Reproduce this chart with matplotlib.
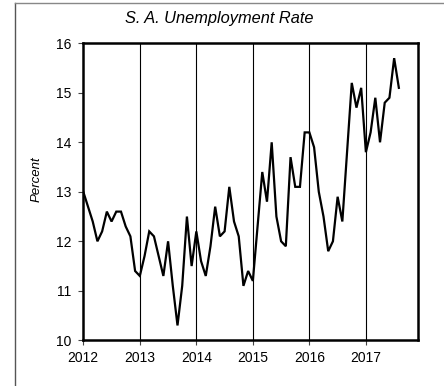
import numpy as np
import matplotlib
matplotlib.use("Agg")
import matplotlib.pyplot as plt
from matplotlib.lines import Line2D

plt.rcParams['font.family'] = ['Liberation Sans', 'DejaVu Sans']

# Seasonally adjusted unemployment rate, monthly from Jan 2012
start_year = 2012
rate = [
    13.0, 12.7, 12.4, 12.0, 12.2, 12.6, 12.4, 12.6, 12.6, 12.3, 12.1, 11.4,  # 2012
    11.3, 11.7, 12.2, 12.1, 11.7, 11.3, 12.0, 11.1, 10.3, 11.1, 12.5, 11.5,  # 2013
    12.2, 11.6, 11.3, 11.9, 12.7, 12.1, 12.2, 13.1, 12.4, 12.1, 11.1, 11.4,  # 2014
    11.2, 12.3, 13.4, 12.8, 14.0, 12.5, 12.0, 11.9, 13.7, 13.1, 13.1, 14.2,  # 2015
    14.2, 13.9, 13.0, 12.5, 11.8, 12.0, 12.9, 12.4, 13.8, 15.2, 14.7, 15.1,  # 2016
    13.8, 14.2, 14.9, 14.0, 14.8, 14.9, 15.7, 15.1,                          # 2017
]
year_ticks = [2012, 2013, 2014, 2015, 2016, 2017]
y_ticks = [10, 11, 12, 13, 14, 15, 16]

t = start_year + np.arange(len(rate)) / 12.0

W, H = 444, 386
fig = plt.figure(figsize=(W / 100, H / 100), dpi=100)
ax = fig.add_axes([83.3 / W, 1 - 340.3 / H, (417.7 - 83.3) / W, (340.3 - 43.3) / H])

ax.plot(t, rate, color='black', lw=1.6, solid_joinstyle='miter')

ax.set_xlim(2012, 2012 + 71 / 12)
ax.set_ylim(10, 16)
ax.set_xticks(year_ticks)
ax.set_xticklabels([str(y) for y in year_ticks])
ax.set_yticks(y_ticks)

for yr in year_ticks[1:]:
    ax.axvline(yr, color='black', lw=0.8, zorder=0)

for s in ax.spines.values():
    s.set_linewidth(1.8)
    s.set_color('black')

ax.tick_params(axis='both', direction='out', length=3.5, width=0.8,
               color='#444444', labelsize=10, pad=4)
ax.tick_params(axis='y', pad=5)

fig.text(219 / W, 1 - 19 / H, 'S. A. Unemployment Rate', ha='center', va='center',
         fontsize=11.8, style='italic')
fig.text(37 / W, 1 - 179 / H, 'Percent', ha='center', va='center',
         rotation=90, fontsize=9.5, style='italic')

# outer frame (top and left edges)
fig.add_artist(Line2D([15 / W, 15 / W], [0, 1 - 3 / H], transform=fig.transFigure,
                      color='#555555', lw=1.0))
fig.add_artist(Line2D([15 / W, 1], [1 - 3 / H, 1 - 3 / H], transform=fig.transFigure,
                      color='#888888', lw=1.0))

fig.savefig('out.png', dpi=100)
